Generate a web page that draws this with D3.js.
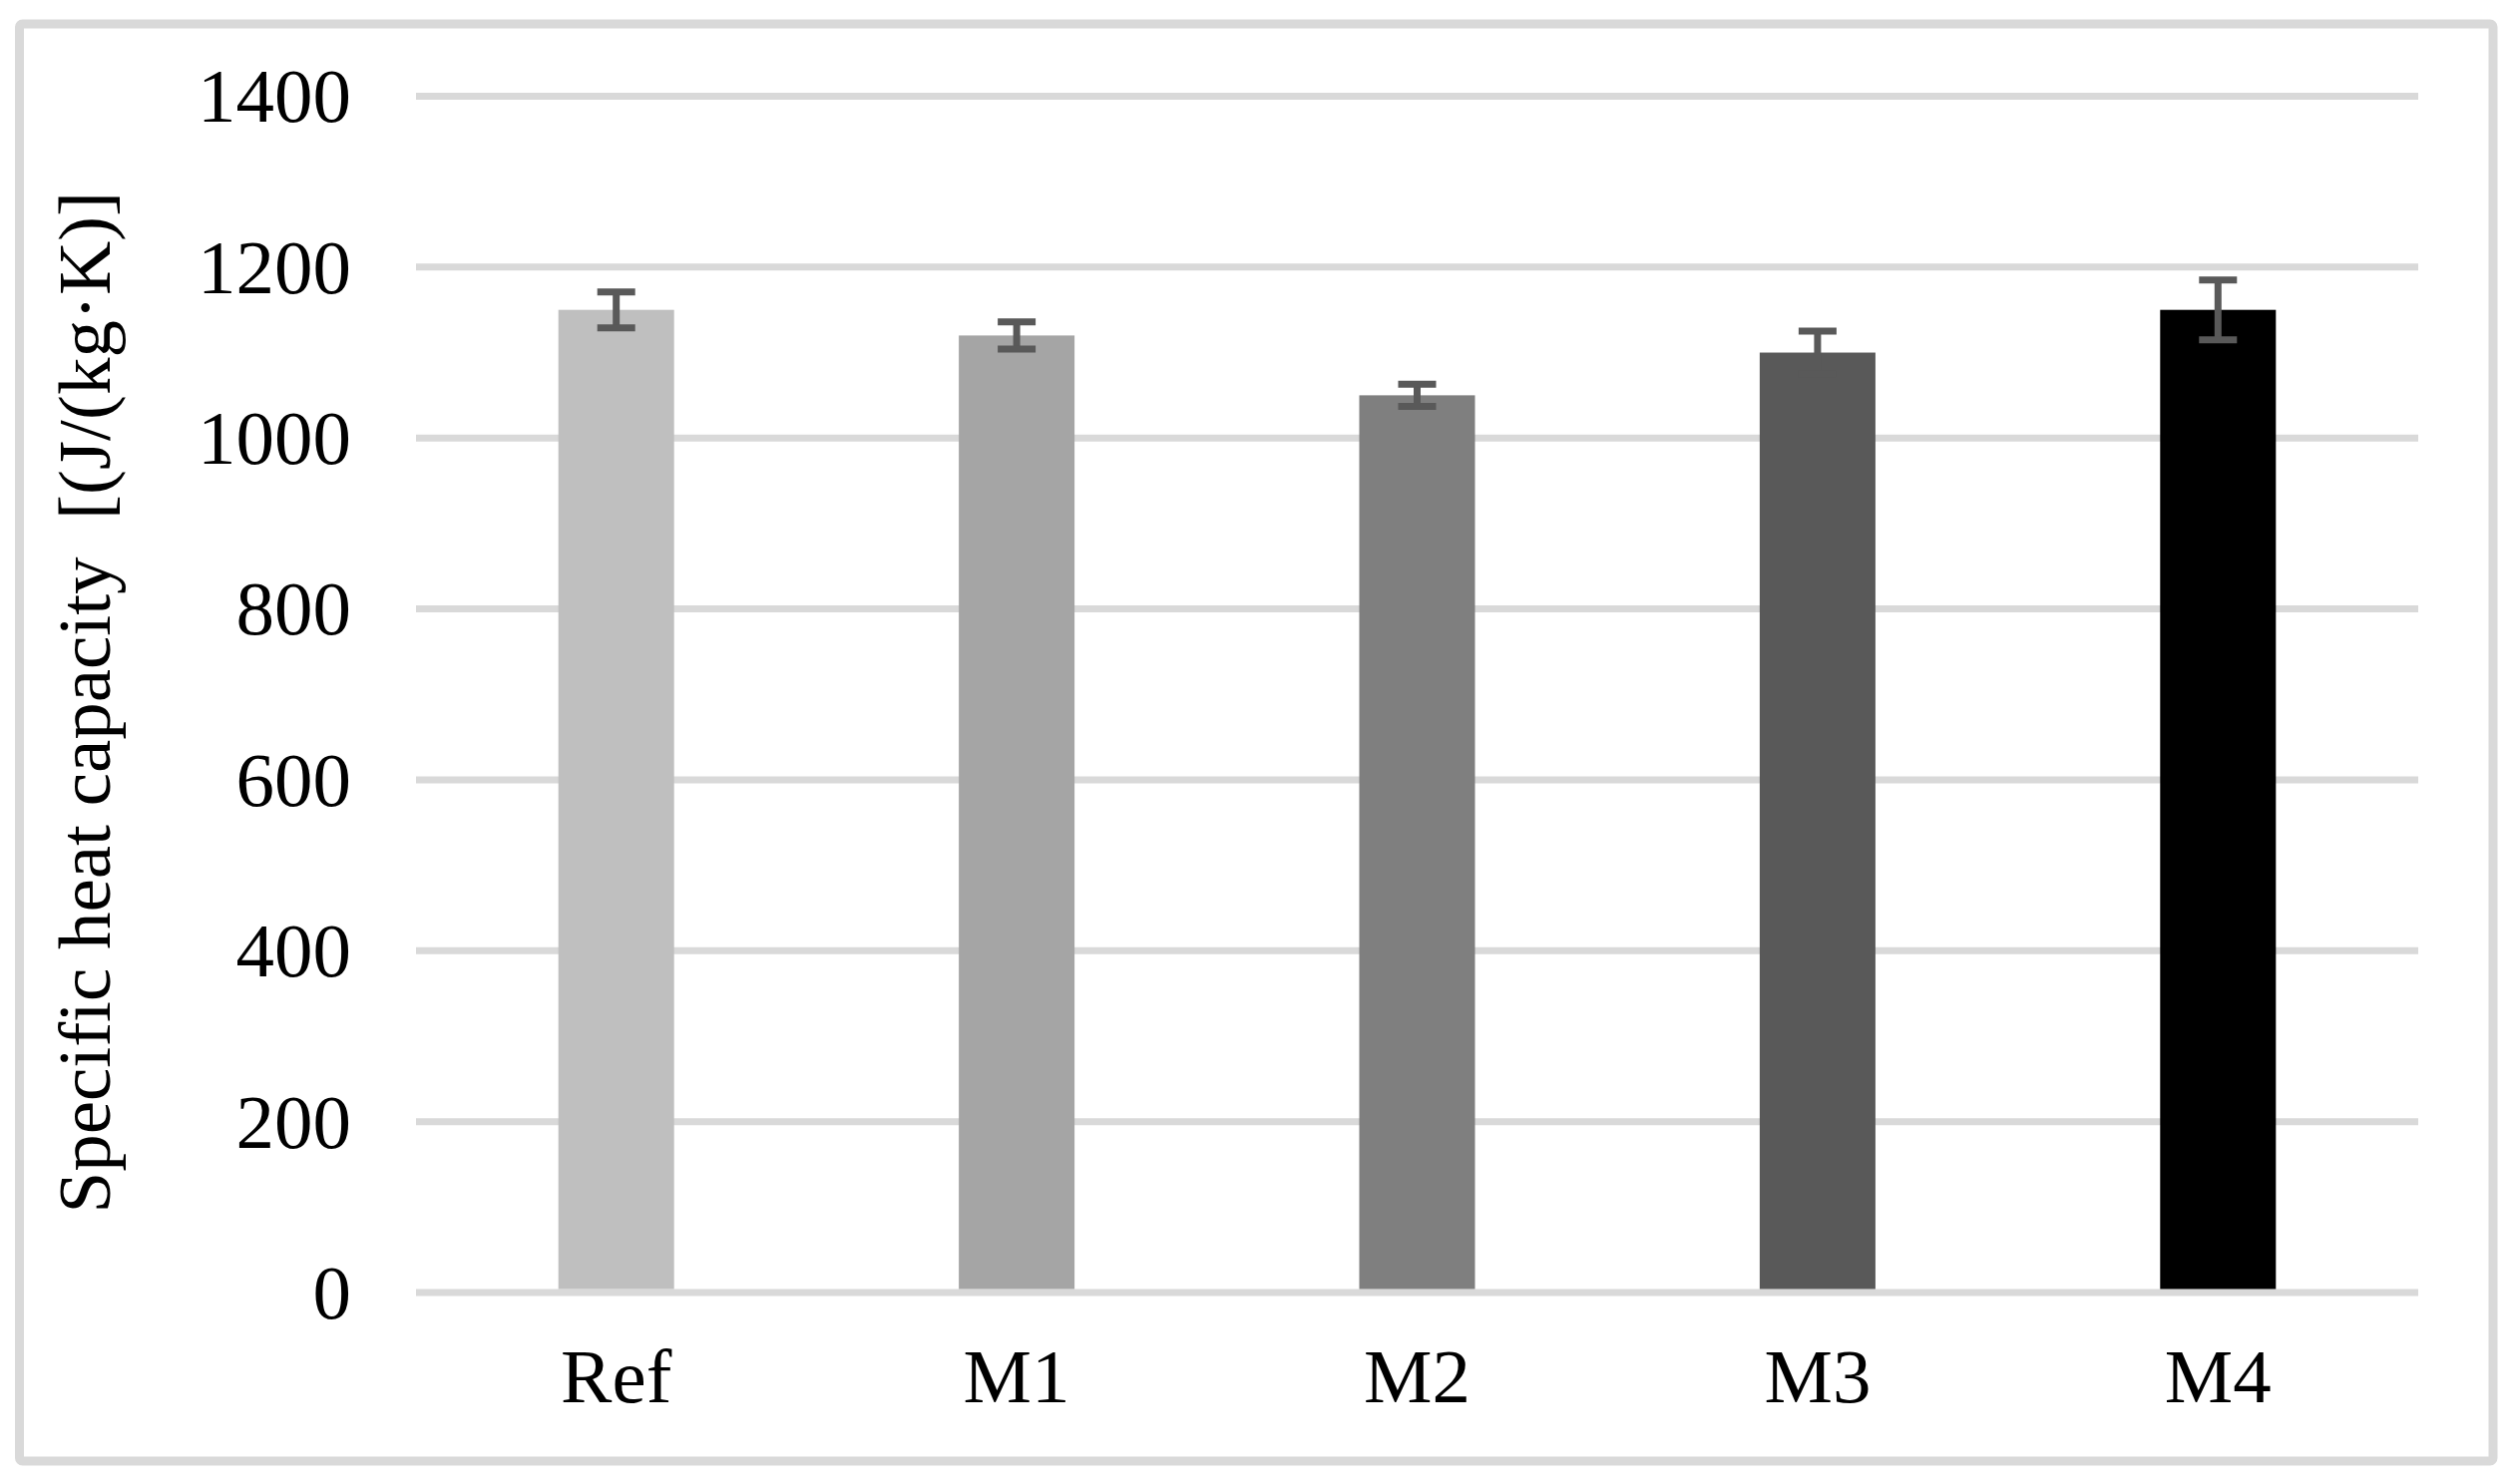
<!DOCTYPE html>
<html>
<head>
<meta charset="utf-8">
<script src="https://cdn.jsdelivr.net/npm/d3@7"></script>
<style>
  html, body { margin: 0; padding: 0; background: #ffffff; }
  svg { display: block; }
</style>
</head>
<body>
<svg id="chart" width="2520" height="1488"></svg>
<script>
const categories = ["Ref", "M1", "M2", "M3", "M4"];
const values = [1150, 1120, 1050, 1100, 1150];
const errors = [21, 16, 13, 25, 35];
const barColors = ["#bfbfbf", "#a5a5a5", "#7f7f7f", "#595959", "#000000"];
const yTicks = [0, 200, 400, 600, 800, 1000, 1200, 1400];
const yTitle = "Specific heat capacity  [(J/(kg\u00B7K)]";

(function () {
const svg = d3.select("#chart");
const font = "'Liberation Serif', 'Times New Roman', serif";

// outer frame
svg.append("rect")
  .attr("x", 19.5).attr("y", 24)
  .attr("width", 2479.5).attr("height", 1441)
  .attr("rx", 3)
  .attr("fill", "#ffffff")
  .attr("stroke", "#d9d9d9")
  .attr("stroke-width", 9);

const pLeft = 417, pRight = 2424, pTop = 96.5, pBottom = 1296;

const y = d3.scaleLinear().domain([0, 1400]).range([pBottom, pTop]);
const x = d3.scaleBand().domain(categories).range([pLeft, pRight])
  .paddingInner(0.711).paddingOuter(0.3555);

// gridlines
svg.append("g").selectAll("line").data(yTicks).join("line")
  .attr("x1", pLeft).attr("x2", pRight)
  .attr("y1", d => y(d)).attr("y2", d => y(d))
  .attr("stroke", "#d9d9d9").attr("stroke-width", 7);

// y axis tick labels
const yAxis = d3.axisLeft(y).tickValues(yTicks).tickSize(0).tickPadding(0).tickFormat(d3.format("d"));
const gy = svg.append("g").attr("transform", `translate(352,0)`).call(yAxis);
gy.select(".domain").remove();
gy.selectAll("text")
  .attr("font-family", font).attr("font-size", 77).attr("fill", "#000")
  .attr("dy", "0.33em");

// bars
const data = categories.map((c, i) => ({ c, v: values[i], e: errors[i], col: barColors[i] }));
svg.append("g").selectAll("rect").data(data).join("rect")
  .attr("x", d => x(d.c))
  .attr("y", d => y(d.v))
  .attr("width", x.bandwidth())
  .attr("height", d => y(0) - y(d.v) - 3.5)
  .attr("fill", d => d.col);

// error bars
const eg = svg.append("g").attr("stroke", "#595959").attr("stroke-width", 7).attr("fill", "none");
data.forEach(d => {
  const cx = x(d.c) + x.bandwidth() / 2;
  const y1 = y(d.v + d.e), y2 = y(d.v - d.e);
  eg.append("line").attr("x1", cx).attr("x2", cx).attr("y1", y1).attr("y2", y2);
  eg.append("line").attr("x1", cx - 19).attr("x2", cx + 19).attr("y1", y1).attr("y2", y1);
  eg.append("line").attr("x1", cx - 19).attr("x2", cx + 19).attr("y1", y2).attr("y2", y2);
});

// x axis labels
const xAxis = d3.axisBottom(x).tickSize(0).tickPadding(0);
const gx = svg.append("g").attr("transform", `translate(0,1406)`).call(xAxis);
gx.select(".domain").remove();
gx.selectAll("text")
  .attr("font-family", font).attr("font-size", 77).attr("fill", "#000")
  .attr("dy", 0).attr("y", 0);

// y title
svg.append("text")
  .attr("transform", `translate(110, ${(pTop + pBottom) / 2 + 8}) rotate(-90)`)
  .attr("text-anchor", "middle")
  .attr("font-family", font).attr("font-size", 75).attr("fill", "#000")
  .attr("xml:space", "preserve")
  .style("white-space", "pre")
  .text(yTitle);
})();
</script>
</body>
</html>
